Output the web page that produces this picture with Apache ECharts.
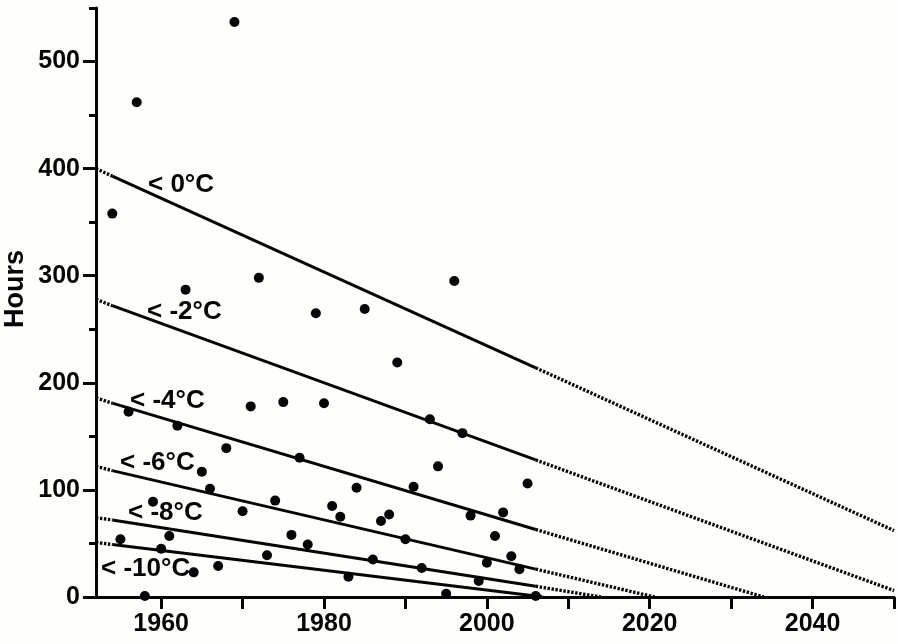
<!DOCTYPE html>
<html>
<head>
<meta charset="utf-8">
<title>Hours below temperature thresholds</title>
<script src="https://cdn.jsdelivr.net/npm/echarts@6/dist/echarts.min.js"></script>
<style>
  html, body { margin: 0; padding: 0; background: #fefefb; }
  #main { width: 897px; height: 644px; }
</style>
</head>
<body>
<div id="main"></div>
<script>
// yearly hours (one point per winter)
var years = [1954, 1955, 1956, 1957, 1958, 1959, 1960, 1961, 1962, 1963,
             1964, 1965, 1966, 1967, 1968, 1969, 1970, 1971, 1972, 1973,
             1974, 1975, 1976, 1977, 1978, 1979, 1980, 1981, 1982, 1983,
             1984, 1985, 1986, 1987, 1988, 1989, 1990, 1991, 1992, 1993,
             1994, 1995, 1996, 1997, 1998, 1999, 2000, 2001, 2002, 2003,
             2004, 2005, 2006];
var hours = [358, 54, 173, 462, 1, 89, 45, 57, 160, 287,
             23, 117, 101, 29, 139, 537, 80, 178, 298, 39,
             90, 182, 58, 130, 49, 265, 181, 85, 75, 19,
             102, 269, 35, 71, 77, 219, 54, 103, 27, 166,
             122, 3, 295, 153, 76, 15, 32, 57, 79, 38,
             26, 106, 1];

// trend lines, one per threshold: solid over the data years, dotted outside
var trendLabels = ['< 0°C', '< -2°C', '< -4°C', '< -6°C', '< -8°C', '< -10°C'];
var trendAt1952 = [400, 278, 186, 122, 74, 51];
var trendAt1954 = [393, 272, 181, 118, 72, 49];
var trendAt2006 = [214, 128, 63, 26, 10, 1];
var trendEndYear = [2050, 2050, 2034, 2020.6, 2014, 2007];
var trendEndValue = [62, 6, 0, 0, 0, 0];

// axis ticks
var xTickValues = [1960, 1970, 1980, 1990, 2000, 2010, 2020, 2030, 2040, 2050];
var xLabelValues = [1960, 1980, 2000, 2020, 2040];
var yMajorValues = [0, 100, 200, 300, 400, 500];
var yMinorValues = [50, 150, 250, 350, 450, 550];

// where the threshold names sit (pixels)
var labelPos = [[148, 185], [147, 312], [130, 401], [120, 463], [128, 513], [101, 569]];

var chart = echarts.init(document.getElementById('main'), null, { renderer: 'canvas' });

var FONT = 'Liberation Sans, Arial, sans-serif';
var INK = '#050505';

var series = [];
for (var i = 0; i < trendLabels.length; i++) {
    series.push({
        name: trendLabels[i],
        type: 'line',
        data: [[1954, trendAt1954[i]], [2006, trendAt2006[i]]],
        showSymbol: false,
        silent: true,
        lineStyle: { color: INK, width: 3 },
        z: 2
    });
    series.push({
        name: trendLabels[i] + ' (extrapolated)',
        type: 'line',
        data: [[1952, trendAt1952[i]], [1954, trendAt1954[i]], null,
               [2006, trendAt2006[i]], [trendEndYear[i], trendEndValue[i]]],
        connectNulls: false,
        showSymbol: false,
        silent: true,
        lineStyle: { color: INK, width: 3.4, type: [2.4, 1.6] },
        z: 2
    });
}

var points = [];
for (var k = 0; k < years.length; k++) {
    points.push([years[k], hours[k]]);
}
series.push({
    name: 'Hours',
    type: 'scatter',
    data: points,
    symbol: 'circle',
    symbolSize: 10,
    itemStyle: { color: INK, opacity: 1 },
    z: 3
});

var graphics = [];
for (var j = 0; j < trendLabels.length; j++) {
    graphics.push({
        type: 'text',
        x: labelPos[j][0],
        y: labelPos[j][1],
        silent: true,
        style: {
            text: trendLabels[j],
            font: 'bold 26px ' + FONT,
            fill: INK,
            align: 'left',
            verticalAlign: 'middle'
        }
    });
}
// y axis title, drawn by hand so it sits where the original has it
graphics.push({
    type: 'text',
    x: 16,
    y: 289,
    rotation: Math.PI / 2,
    silent: true,
    style: {
        text: 'Hours',
        font: 'bold 27px ' + FONT,
        fill: INK,
        align: 'center',
        verticalAlign: 'middle'
    }
});

var option = {
    backgroundColor: '#fefefb',
    animation: false,
    grid: { left: 96, right: 3, top: 8, bottom: 47, containLabel: false,
            outerBoundsMode: 'none' },
    xAxis: {
        type: 'value',
        min: 1952,
        max: 2050,
        splitLine: { show: false },
        axisLine: { show: true, onZero: false, lineStyle: { color: INK, width: 3 } },
        axisTick: { show: true, length: 12, customValues: xTickValues,
                    lineStyle: { color: INK, width: 3 } },
        axisLabel: { customValues: xLabelValues, margin: 15, color: INK,
                     fontFamily: FONT, fontWeight: 'bold', fontSize: 25,
                     formatter: function (v) { return String(v); } }
    },
    yAxis: [{
        type: 'value',
        min: 0,
        max: 550,
        position: 'left',
        splitLine: { show: false },
        axisLine: { show: true, lineStyle: { color: INK, width: 3 } },
        axisTick: { show: true, length: 13, customValues: yMajorValues,
                    lineStyle: { color: INK, width: 3 } },
        axisLabel: { customValues: yMajorValues, margin: 16, color: INK,
                     fontFamily: FONT, fontWeight: 'bold', fontSize: 25 }
    }, {
        // minor ticks every 50
        type: 'value',
        min: 0,
        max: 550,
        position: 'left',
        offset: 0,
        splitLine: { show: false },
        axisLine: { show: false },
        axisTick: { show: true, length: 7, customValues: yMinorValues,
                    lineStyle: { color: INK, width: 3 } },
        axisLabel: { show: false }
    }],
    graphic: graphics,
    series: series
};

chart.setOption(option);
</script>
</body>
</html>
